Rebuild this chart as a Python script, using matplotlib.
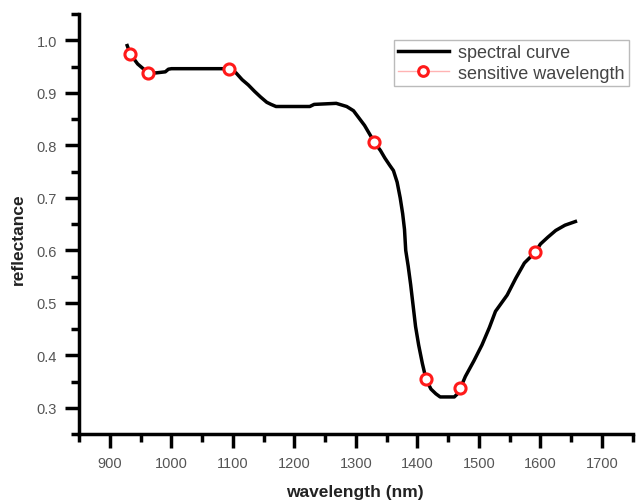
import matplotlib
matplotlib.use('Agg')
import matplotlib.pyplot as plt
from matplotlib.lines import Line2D
from matplotlib.ticker import MultipleLocator

plt.rcParams['font.family'] = ['Liberation Sans', 'DejaVu Sans']

# spectral curve
wavelength = [928, 933, 945, 955, 962, 975, 990, 995, 1000, 1050, 1093, 1105, 1115,
              1125, 1135, 1145, 1155, 1162, 1170, 1200, 1225, 1232, 1250, 1268, 1285,
              1296, 1305, 1314, 1322, 1330, 1340, 1347, 1355, 1361, 1367, 1372, 1376,
              1379, 1381, 1385, 1389, 1393, 1397, 1402, 1408, 1414, 1422, 1430, 1437,
              1460, 1466, 1470, 1478, 1492, 1505, 1517, 1527, 1546, 1560, 1574, 1592,
              1600, 1612, 1625, 1640, 1657]
reflectance = [0.990, 0.974, 0.955, 0.945, 0.938, 0.938, 0.940, 0.945, 0.946, 0.946,
               0.946, 0.938, 0.925, 0.915, 0.903, 0.892, 0.882, 0.878, 0.874, 0.874,
               0.874, 0.878, 0.879, 0.880, 0.874, 0.866, 0.852, 0.838, 0.822, 0.806,
               0.790, 0.776, 0.762, 0.752, 0.730, 0.700, 0.670, 0.640, 0.600, 0.570,
               0.535, 0.495, 0.455, 0.420, 0.385, 0.355, 0.336, 0.327, 0.321, 0.321,
               0.328, 0.338, 0.360, 0.390, 0.420, 0.453, 0.484, 0.515, 0.547, 0.576,
               0.597, 0.612, 0.625, 0.638, 0.648, 0.655]

# sensitive wavelengths
sens_wl = [933, 962, 1093, 1330, 1414, 1470, 1592]
sens_refl = [0.974, 0.938, 0.946, 0.806, 0.355, 0.338, 0.597]

fig = plt.figure(figsize=(6.39, 5.02), dpi=100)
ax = fig.add_axes([0.124, 0.133, 0.866, 0.837])

ax.plot(wavelength, reflectance, color='black', lw=2.5)
ax.plot(sens_wl, sens_refl, 'o', ls='none', ms=8, mfc='white', mec='#ff1a1a', mew=2.2)

ax.set_xlim(850, 1750)
ax.set_ylim(0.25, 1.05)
ax.xaxis.set_major_locator(MultipleLocator(100))
ax.xaxis.set_minor_locator(MultipleLocator(50))
ax.yaxis.set_major_locator(MultipleLocator(0.1))
ax.yaxis.set_minor_locator(MultipleLocator(0.05))
ax.set_yticks([0.3, 0.4, 0.5, 0.6, 0.7, 0.8, 0.9, 1.0])
ax.set_xticks([900, 1000, 1100, 1200, 1300, 1400, 1500, 1600, 1700])

for s in ['top', 'right']:
    ax.spines[s].set_visible(False)
for s in ['left', 'bottom']:
    ax.spines[s].set_linewidth(2.5)

ax.tick_params(which='major', direction='out', length=10, width=2.5,
               labelsize=10.5, labelcolor='#555555', pad=6)
ax.tick_params(which='minor', direction='out', length=6, width=2.5)

ax.set_xlabel('wavelength (nm)', fontsize=12.5, fontweight='bold', color='#222222')
ax.set_ylabel('reflectance', fontsize=12.5, fontweight='bold', color='#222222')
ax.xaxis.set_label_coords(0.498, -0.118)
ax.yaxis.set_label_coords(-0.096, 0.467)

handles = [Line2D([], [], color='black', lw=2.5),
           Line2D([], [], color='#ffb3b3', lw=1, marker='o', ms=7,
                  mfc='white', mec='#ff1a1a', mew=2.2)]
leg = fig.legend(handles, ['spectral curve', 'sensitive wavelength'],
                 loc='upper right', bbox_to_anchor=(0.998, 0.937),
                 fontsize=13, frameon=True, fancybox=False,
                 handlelength=2.8, handletextpad=0.5, borderpad=0.25,
                 labelspacing=0.2)
leg.get_frame().set_edgecolor('#aaaaaa')
leg.get_frame().set_linewidth(1)
for t in leg.get_texts():
    t.set_color('#444444')

fig.savefig('out.png', dpi=100)
